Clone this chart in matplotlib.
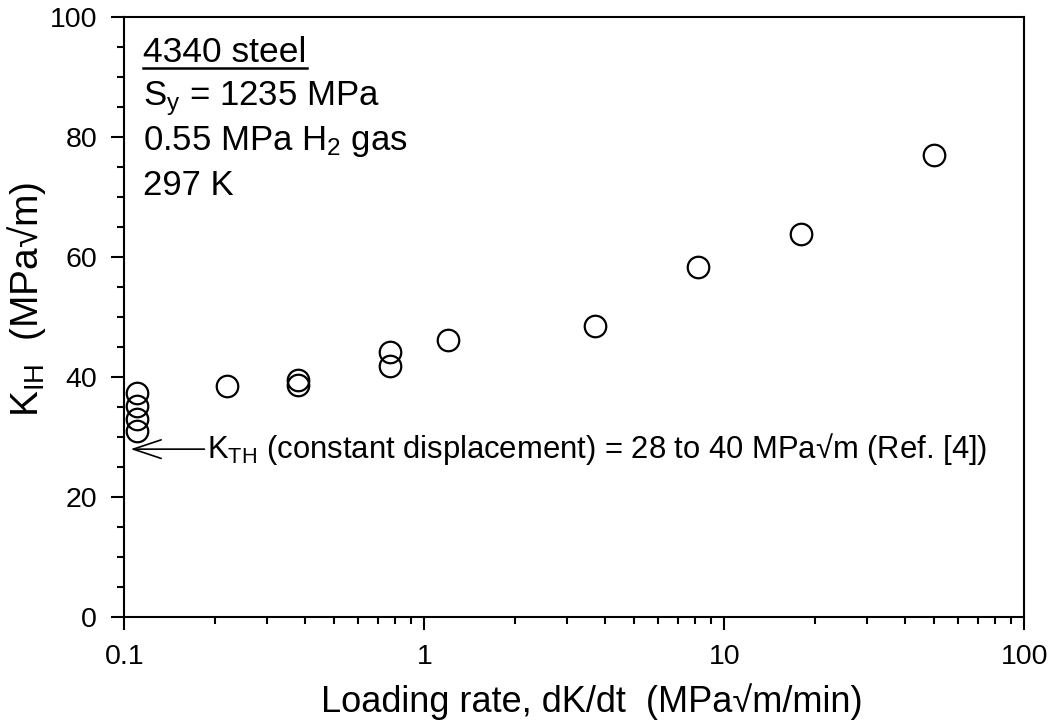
import matplotlib
matplotlib.use('Agg')
import matplotlib.pyplot as plt
import numpy as np
from matplotlib.lines import Line2D
from matplotlib.ticker import MultipleLocator, LogLocator, NullFormatter

plt.rcParams['font.family'] = ['Liberation Sans', 'DejaVu Sans']
plt.rcParams['mathtext.fontset'] = 'custom'
plt.rcParams['mathtext.rm'] = 'Liberation Sans'
plt.rcParams['mathtext.it'] = 'Liberation Sans:italic'

# loading rate (MPa sqrt(m)/min) vs K_IH (MPa sqrt(m))
rate = [0.11, 0.11, 0.11, 0.11, 0.22, 0.38, 0.38, 0.77, 0.77, 1.2, 3.7, 8.2, 18, 50]
k_ih = [37.3, 35.2, 33.1, 31.0, 38.5, 39.5, 38.7, 44.1, 41.8, 46.1, 48.5, 58.4, 63.8, 77.0]

xticks = [0.1, 1, 10, 100]
xticklabels = ['0.1', '1', '10', '100']
yticks = [0, 20, 40, 60, 80, 100]

info_lines = ['S$_\\mathregular{y}$ = 1235 MPa',
              '0.55 MPa H$_\\mathregular{2}$ gas',
              '297 K']
kth = 28

fig = plt.figure(figsize=(10.56, 7.26), dpi=100)
ax = fig.add_axes([0.1177, 0.1497, 0.8523, 0.8273])

ax.plot(rate, k_ih, 'o', ms=15.5, mfc='none', mec='black', mew=1.6)

ax.set_xscale('log')
ax.set_xlim(0.1, 100)
ax.set_ylim(0, 100)
ax.set_xticks(xticks, xticklabels)
ax.xaxis.set_minor_locator(LogLocator(base=10, subs=np.arange(2, 10)))
ax.xaxis.set_minor_formatter(NullFormatter())
ax.set_yticks(yticks)
ax.yaxis.set_minor_locator(MultipleLocator(5))

for s in ax.spines.values():
    s.set_linewidth(1.5)
ax.tick_params(which='major', length=9.5, width=1.5, labelsize=20.5, pad=10, direction='out')
ax.tick_params(which='minor', length=5, width=1.5, direction='out')

ax.set_xlabel('Loading rate, dK/dt  (MPa\u221am/min)', fontsize=26, labelpad=8)
ax.xaxis.set_label_coords(0.52, -0.11)
ax.set_ylabel('K$_\\mathregular{IH}$  (MPa\u221am)', fontsize=28, labelpad=6)
ax.yaxis.set_label_coords(-0.085, 0.53)

title = ax.text(0.0211, 0.925, '4340 steel', transform=ax.transAxes,
                fontsize=25.5, va='baseline', ha='left')
for i, line in enumerate(info_lines):
    ax.text(0.0211, 0.853 - i * 0.075, line, transform=ax.transAxes,
            fontsize=25, va='baseline', ha='left')

ax.annotate('K$_\\mathregular{TH}$ (constant displacement) = 28 to 40 MPa\u221am (Ref. [4])',
            xy=(0.105, kth), xytext=(0.189, kth), textcoords='data',
            fontsize=22.3, va='center', ha='left',
            arrowprops=dict(arrowstyle='->,head_length=0.9,head_width=0.3',
                            lw=1.2, color='black', shrinkA=0, shrinkB=0))

# underline the title
fig.canvas.draw()
bb = title.get_window_extent()
uy = bb.y0 + 1
fig.add_artist(Line2D([bb.x0, bb.x1], [uy, uy], transform=None, color='black', lw=1.8))

fig.savefig('out.png', dpi=100)
